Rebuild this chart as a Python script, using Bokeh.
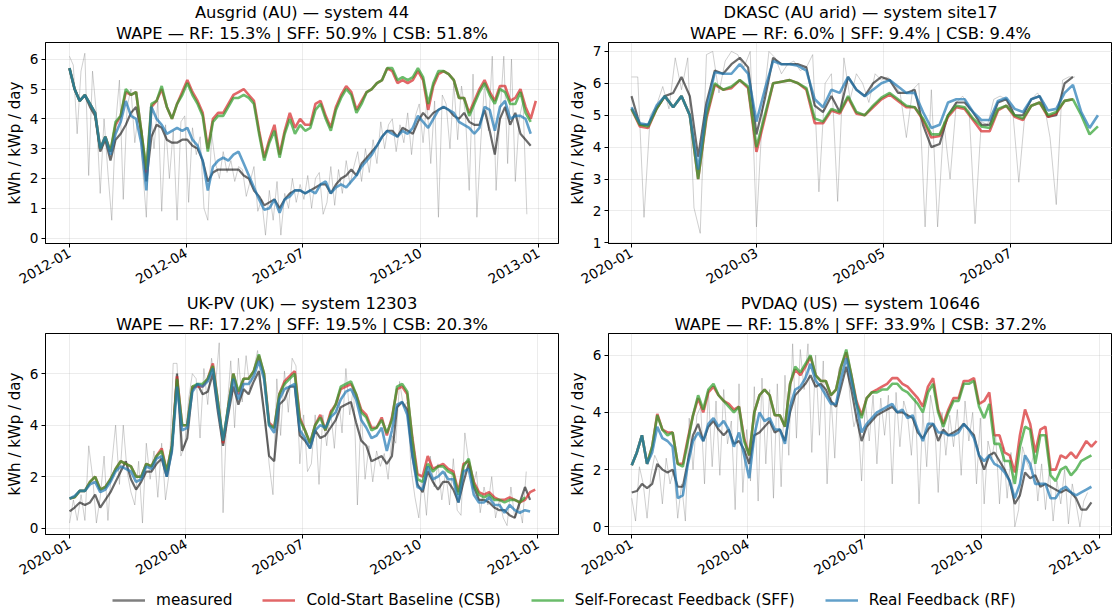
import math
from datetime import datetime, timedelta
import numpy as np
from bokeh.plotting import figure
from bokeh.layouts import gridplot, column
from bokeh.models import (Range1d, FixedTicker, DatetimeTickFormatter, Title,
                          Legend, LegendItem)
from bokeh.embed import file_html
from bokeh.resources import INLINE

# ---------------------------------------------------------------- data
# smoothed series sampled every 4 days, raw daily measurement every 3 days
TL_START = datetime(2012, 1, 1)
TL_TITLE = ("Ausgrid (AU) \u2014 system 44", "WAPE \u2014 RF: 15.3% | SFF: 50.9% | CSB: 51.8%")
TL_CSB = [5.7, 5.0, 4.6, 4.8, 4.5, 4.2, 3.0, 3.4, 2.9, 3.8,
          4.1, 4.9, 4.8, 4.9, 3.6, 2.2, 4.4, 4.6, 5.0, 4.4,
          4.0, 4.5, 4.9, 5.3, 4.9, 4.6, 4.2, 3.0, 4.0, 4.2,
          4.2, 4.5, 4.8, 4.9, 5.0, 4.8, 4.6, 3.6, 2.7, 3.3,
          3.8, 2.8, 3.6, 4.2, 3.7, 4.0, 3.8, 3.8, 4.5, 4.6,
          4.1, 3.7, 4.4, 4.8, 5.1, 4.9, 4.3, 4.6, 4.9, 5.0,
          5.2, 5.3, 5.7, 5.6, 5.2, 5.3, 5.2, 5.3, 5.6, 5.3,
          4.3, 5.1, 5.5, 5.6, 5.5, 5.3, 4.7, 4.7, 4.2, 4.6,
          5.0, 5.3, 4.9, 4.6, 5.1, 5.1, 4.6, 4.7, 5.0, 4.4,
          4.0, 4.6]
TL_SFF = [5.7, 5.0, 4.6, 4.8, 4.5, 4.2, 3.0, 3.4, 2.9, 3.9,
          4.1, 5.0, 4.8, 4.9, 3.6, 2.3, 4.5, 4.6, 5.1, 4.4,
          4.0, 4.5, 4.8, 5.2, 4.8, 4.5, 4.1, 2.9, 3.9, 4.1,
          4.1, 4.4, 4.7, 4.7, 4.8, 4.7, 4.5, 3.5, 2.6, 3.2,
          3.6, 2.7, 3.5, 4.0, 3.5, 3.8, 3.6, 3.7, 4.3, 4.5,
          4.0, 3.6, 4.3, 4.7, 5.0, 4.8, 4.2, 4.5, 4.9, 5.0,
          5.2, 5.3, 5.7, 5.7, 5.3, 5.4, 5.3, 5.4, 5.7, 5.4,
          4.5, 5.2, 5.6, 5.6, 5.5, 5.3, 4.7, 4.7, 4.1, 4.5,
          4.9, 5.2, 4.8, 4.5, 5.0, 4.9, 4.5, 4.5, 4.9, 4.2,
          3.9, None]
TL_RF = [5.7, 5.0, 4.6, 4.8, 4.5, 4.2, 3.0, 3.4, 2.8, 3.5,
         3.9, 4.6, 4.1, 4.0, 3.2, 1.6, 4.4, 4.0, 3.8, 3.5,
         3.6, 3.7, 3.6, 3.7, 3.3, 3.1, 2.6, 1.6, 2.4, 2.6,
         2.7, 2.6, 2.8, 2.9, 2.5, 2.1, 1.7, 1.3, 0.95, 1.0,
         1.3, 0.85, 1.3, 1.4, 1.6, 1.6, 1.5, 1.6, 1.5, 1.8,
         1.9, 1.5, 1.7, 1.8, 1.7, 1.9, 2.1, 2.4, 2.6, 2.8,
         3.1, 3.4, 3.6, 3.5, 3.4, 3.6, 3.5, 3.7, 4.1, 3.9,
         3.7, 4.0, 4.3, 4.4, 4.3, 4.2, 3.9, 3.8, 3.7, 3.5,
         3.7, 4.4, 4.3, 3.6, 4.4, 4.6, 4.0, 4.1, 4.1, 4.0,
         3.5, None]
TL_MEAS = [5.7, 5.0, 4.6, 4.8, 4.4, 4.1, 2.9, 3.3, 2.6, 3.3,
           3.5, 3.8, 4.2, 4.4, 3.6, 1.9, 3.4, 3.8, 3.7, 3.3,
           3.2, 3.2, 3.3, 3.3, 3.1, 3.0, 2.6, 1.9, 2.2, 2.3,
           2.3, 2.3, 2.3, 2.3, 2.1, 2.0, 1.6, 1.4, 1.1, 1.2,
           1.3, 1.0, 1.3, 1.5, 1.6, 1.6, 1.5, 1.6, 1.7, 1.8,
           1.8, 1.5, 1.8, 2.0, 2.1, 2.3, 2.1, 2.5, 2.7, 2.9,
           3.1, 3.4, 3.6, 3.6, 3.4, 3.7, 3.6, 3.5, 3.9, 4.2,
           4.0, 4.2, 4.3, 4.4, 4.3, 4.1, 4.0, 4.2, 3.9, 3.8,
           3.8, 4.3, 3.6, 2.8, 4.0, 4.4, 3.8, 4.2, 3.5, 3.3,
           3.1, None]
TL_RAW = [6.1, 5.8, 3.5, 5.6, 6.2, 2.1, 5.6, 4.2, 1.5, 4.0,
          2.2, 0.6, 3.8, 5.3, 1.3, 4.4, 5.0, 3.2, 4.3, 2.4,
          0.7, 4.4, 3.0, 4.6, 0.9, 3.8, 2.0, 3.6, 0.6, 3.9,
          4.1, 1.2, 3.7, 2.8, 3.4, 1.0, 0.6, 3.5, 2.5, 2.0,
          2.9, 2.2, 2.6, 1.9, 2.4, 2.3, 1.4, 1.9, 2.4, 0.9,
          1.3, 0.1, 1.6, 0.6, 1.9, 0.1, 1.5, 1.0, 2.0, 1.2,
          1.8, 1.3, 2.1, 1.0, 2.0, 2.2, 0.8, 1.2, 2.4, 1.1,
          2.3, 1.5, 2.6, 1.8, 2.4, 2.9, 1.9, 3.0, 2.2, 3.3,
          2.5, 3.9, 3.0, 3.8, 4.0, 2.9, 3.8, 3.2, 4.2, 2.8,
          4.1, 4.5, 3.2, 4.6, 2.5, 4.6, 0.7, 4.8, 4.5, 3.0,
          5.2, 3.3, 5.1, 4.2, 1.6, 5.5, 0.7, 3.2, 5.2, 3.6,
          6.1, 1.6, 4.1, 6.1, 2.5, 6.0, 1.9, 4.0, 4.6, 0.8]
TL_XTICKS = [datetime(2012, 1, 1), datetime(2012, 4, 1), datetime(2012, 7, 1),
             datetime(2012, 10, 1), datetime(2013, 1, 1)]
TL_YTICKS = [0, 1, 2, 3, 4, 5, 6]

TR_START = datetime(2020, 1, 1)
TR_TITLE = ("DKASC (AU arid) \u2014 system site17", "WAPE \u2014 RF: 6.0% | SFF: 9.4% | CSB: 9.4%")
TR_CSB = [5.2, 4.65, 4.6, 5.2, 5.6, 5.25, 5.6, 5.0, 3.0, 4.9,
          5.95, 5.8, 5.85, 6.1, 5.85, 3.85, 4.9, 6.0, 6.05, 6.1,
          6.0, 5.8, 4.75, 4.75, 5.15, 5.05, 5.55, 5.05, 5.0, 5.25,
          5.5, 5.65, 5.45, 5.25, 5.25, 4.85, 4.3, 4.35, 4.95, 5.25,
          5.2, 4.85, 4.5, 4.5, 5.15, 5.3, 4.95, 4.85, 5.3, 5.4,
          4.95, 5.05, 5.45, 5.5, None, None, None]
TR_SFF = [5.2, 4.7, 4.65, 5.2, 5.6, 5.25, 5.6, 5.0, 3.0, 5.0,
          6.0, 5.8, 5.9, 6.1, 5.9, 4.0, 5.0, 6.0, 6.05, 6.1,
          6.0, 5.85, 4.9, 4.8, 5.2, 5.1, 5.6, 5.1, 5.0, 5.3,
          5.55, 5.7, 5.5, 5.3, 5.25, 4.9, 4.4, 4.4, 5.0, 5.3,
          5.25, 4.9, 4.65, 4.6, 5.2, 5.3, 5.0, 4.9, 5.3, 5.4,
          5.0, 5.1, 5.45, 5.5, 5.0, 4.4, 4.65]
TR_RF = [5.25, 4.75, 4.7, 5.3, 5.6, 5.25, 5.6, 5.0, 3.3, 5.2,
         6.35, 6.3, 6.3, 6.6, 6.3, 4.8, 5.8, 6.7, 6.6, 6.6,
         6.55, 6.4, 5.5, 5.25, 5.8, 5.7, 6.2, 5.8, 5.6, 5.8,
         6.0, 6.1, 5.9, 5.7, 5.7, 5.1, 4.6, 4.7, 5.4, 5.5,
         5.5, 5.1, 4.85, 4.85, 5.45, 5.55, 5.2, 5.1, 5.5, 5.6,
         5.15, 5.2, 5.7, 5.95, 5.1, 4.6, 5.0]
TR_MEAS = [5.6, 4.7, 4.7, 5.2, 5.6, 5.7, 6.2, 5.6, 3.7, 5.4,
           6.4, 6.3, 6.6, 6.8, 6.5, 4.4, 5.5, 6.8, 6.6, 6.6,
           6.6, 6.5, 5.3, 5.1, 5.6, 5.1, 6.2, 5.8, 5.6, 6.0,
           6.2, 6.1, 5.7, 5.7, 5.8, 4.7, 4.0, 4.1, 5.0, 5.4,
           5.4, 5.1, 4.7, 4.7, 5.4, 5.5, 5.0, 5.0, 5.5, 5.6,
           4.95, 5.0, 6.0, 6.2, None, None, None]
TR_RAW = [6.2, 6.2, 1.8, 5.0, 5.3, 5.9, 5.2, 6.8, 5.8, 6.8,
          2.1, 1.3, 6.9, 7.0, 5.7, 6.7, 7.0, 6.9, 6.5, 7.0,
          1.5, 5.2, 7.0, 6.8, 6.3, 6.6, 6.7, 6.4, 6.5, 6.9,
          2.6, 6.0, 6.3, 2.3, 6.8, 5.5, 6.3, 6.0, 5.4, 6.3,
          6.1, 6.2, 6.0, 5.7, 4.3, 5.8, 6.0, 1.5, 5.8, 1.5,
          4.8, 3.0, 5.4, 5.6, 5.3, 1.6, 4.8, 4.7, 5.5, 5.6,
          5.5, 5.2, 2.9, 5.1, 5.5, 5.7, 5.4, 4.3, 2.2, 6.1,
          6.2, 6.2]
TR_XTICKS = [datetime(2020, 1, 1), datetime(2020, 3, 1), datetime(2020, 5, 1),
             datetime(2020, 7, 1)]
TR_YTICKS = [1, 2, 3, 4, 5, 6, 7]

BL_START = datetime(2020, 1, 1)
BL_TITLE = ("UK-PV (UK) \u2014 system 12303", "WAPE \u2014 RF: 17.2% | SFF: 19.5% | CSB: 20.3%")
BL_CSB = [1.15, 1.2, 1.45, 1.45, 1.8, 2.0, 1.5, 1.6, 1.9, 2.3,
          2.6, 2.5, 2.4, 2.0, 2.0, 2.5, 2.4, 2.8, 3.1, 2.2,
          3.2, 5.9, 4.0, 4.0, 5.5, 5.5, 5.5, 5.8, 6.4, 4.9,
          3.3, 4.7, 6.0, 5.2, 5.8, 5.8, 6.1, 6.7, 6.0, 4.1,
          3.9, 5.2, 5.7, 5.9, 6.1, 4.3, 3.8, 3.3, 4.0, 4.4,
          3.8, 4.5, 4.8, 5.4, 5.5, 5.6, 5.2, 4.6, 4.4, 3.9,
          3.9, 4.3, 3.6, 4.3, 5.4, 5.5, 5.2, 3.5, 2.1, 2.0,
          2.8, 2.3, 2.4, 2.5, 2.3, 2.2, 1.4, 2.5, 2.6, 1.8,
          1.4, 1.3, 1.4, 1.2, 1.1, 1.1, 1.2, 1.1, 1.0, 1.1,
          1.4, 1.5]
BL_SFF = [1.15, 1.2, 1.45, 1.45, 1.8, 2.0, 1.5, 1.6, 1.9, 2.3,
          2.6, 2.5, 2.4, 2.0, 2.0, 2.5, 2.4, 2.8, 3.0, 2.2,
          3.2, 5.8, 4.0, 4.0, 5.5, 5.6, 5.6, 5.8, 6.3, 4.9,
          3.4, 4.7, 6.0, 5.3, 5.8, 5.8, 6.1, 6.75, 6.0, 4.0,
          3.9, 5.2, 5.6, 5.8, 6.0, 4.2, 3.8, 3.3, 4.0, 4.3,
          3.8, 4.4, 4.8, 5.5, 5.6, 5.7, 5.2, 4.5, 4.3, 3.8,
          3.9, 4.2, 3.7, 4.2, 5.5, 5.6, 5.3, 3.4, 1.9, 1.8,
          2.5, 2.2, 2.4, 2.4, 2.2, 2.1, 1.3, 2.4, 2.7, 1.7,
          1.3, 1.2, 1.3, 1.1, 1.1, 1.0, 1.1, 1.1, 1.0, 1.2,
          None, None]
BL_RF = [1.15, 1.25, 1.45, 1.45, 1.7, 1.8, 1.4, 1.5, 1.8, 2.2,
         2.4, 2.3, 2.2, 1.8, 1.9, 2.4, 2.3, 2.7, 2.8, 2.0,
         3.0, 5.5, 3.8, 3.9, 5.3, 5.6, 5.5, 5.7, 6.2, 4.7,
         3.4, 4.6, 5.8, 5.0, 5.6, 5.6, 5.9, 6.5, 5.8, 4.0,
         3.7, 5.0, 5.4, 5.5, 5.6, 3.8, 3.5, 3.1, 3.8, 4.0,
         3.9, 4.3, 4.5, 5.0, 5.3, 5.4, 5.0, 4.2, 3.9, 3.5,
         3.6, 3.9, 3.0, 3.8, 4.8, 4.9, 4.4, 2.8, 1.6, 1.5,
         2.4, 1.9, 2.0, 2.2, 1.9, 1.9, 1.0, 2.2, 2.3, 1.3,
         1.0, 1.0, 1.2, 0.9, 0.9, 0.6, 0.9, 0.7, 0.6, 0.7,
         0.65, None]
BL_MEAS = [0.65, 0.8, 1.0, 0.9, 1.0, 1.3, 0.8, 1.1, 1.4, 1.8,
           2.2, 2.6, 1.9, 1.5, 1.8, 2.2, 2.2, 2.5, 2.7, 2.0,
           3.0, 6.0, 3.0, 3.5, 5.4, 5.6, 5.2, 5.3, 6.0, 4.5,
           3.2, 4.4, 5.5, 4.8, 5.4, 5.2, 5.7, 6.1, 4.5, 2.8,
           2.6, 4.8, 5.0, 5.5, 5.5, 3.6, 3.4, 3.1, 3.8, 3.5,
           3.6, 3.9, 4.2, 4.7, 4.8, 4.9, 4.1, 3.4, 3.2, 2.6,
           2.7, 2.8, 2.5, 2.8, 4.7, 4.9, 4.6, 2.8, 1.7, 1.4,
           2.2, 1.8, 1.5, 1.8, 1.8, 1.5, 1.0, 1.8, 2.5, 1.6,
           1.1, 1.1, 1.0, 0.8, 0.7, 0.7, 0.5, 0.4, 1.0, 1.6,
           1.1, None]
BL_RAW = [0.2, 1.1, 0.3, 1.3, 0.3, 3.2, 2.0, 0.2, 1.2, 2.8,
          0.3, 2.5, 4.0, 1.7, 4.0, 2.2, 1.4, 0.9, 2.6, 0.2,
          3.3, 1.9, 3.0, 1.2, 3.3, 1.1, 2.2, 6.4, 6.4, 2.8,
          3.2, 5.0, 6.0, 5.8, 3.5, 6.2, 4.8, 6.6, 5.5, 7.2,
          0.6, 4.5, 6.5, 3.9, 6.6, 4.9, 6.7, 5.4, 6.2, 6.9,
          5.5, 4.3, 2.5, 1.3, 5.8, 3.6, 6.1, 4.5, 6.6, 6.3,
          2.5, 4.4, 2.2, 2.5, 4.4, 1.7, 4.4, 3.2, 4.6, 3.1,
          5.2, 3.7, 6.2, 4.4, 5.5, 0.9, 4.6, 1.9, 3.2, 1.8,
          3.0, 2.4, 2.9, 1.9, 3.6, 3.3, 5.7, 4.7, 4.9, 2.3,
          1.2, 0.4, 2.0, 0.5, 2.8, 1.6, 2.5, 1.1, 2.2, 0.9,
          2.7, 0.7, 0.5, 3.7, 2.6, 1.5, 2.2, 0.6, 1.6, 0.9,
          2.0, 0.4, 1.1, 0.4, 0.1, 1.6, 0.4, 1.0, 0.2, 2.2]
BL_XTICKS = [datetime(2020, 1, 1), datetime(2020, 4, 1), datetime(2020, 7, 1),
             datetime(2020, 10, 1), datetime(2021, 1, 1)]
BL_YTICKS = [0, 2, 4, 6]

BR_START = datetime(2020, 1, 1)
BR_TITLE = ("PVDAQ (US) \u2014 system 10646", "WAPE \u2014 RF: 15.8% | SFF: 33.9% | CSB: 37.2%")
BR_CSB = [2.15, 2.6, 3.2, 2.2, 2.8, 3.95, 3.4, 3.3, 3.3, 2.2,
          2.2, 3.1, 3.9, 4.5, 4.0, 4.7, 4.9, 4.6, 4.4, 4.3,
          4.1, 4.2, 3.1, 2.5, 4.0, 4.6, 4.8, 4.6, 3.9, 3.9,
          3.5, 5.0, 5.5, 5.3, 5.6, 5.95, 5.3, 5.1, 5.1, 4.6,
          4.8, 5.6, 6.1, 5.3, 4.4, 3.9, 4.5, 4.7, 4.8, 4.9,
          5.0, 5.2, 5.2, 5.0, 4.9, 4.7, 4.5, 4.2, 4.9, 5.2,
          4.1, 3.6, 4.1, 4.5, 4.5, 5.1, 5.1, 5.2, 4.3, 4.4,
          4.7, 3.2, 3.2, 2.6, 2.5, 1.9, 3.2, 4.1, 3.6, 2.6,
          3.4, 3.5, 2.0, 2.0, 2.5, 2.4, 2.6, 2.4, 2.7, 3.0,
          2.8, 3.0]
BR_SFF = [2.15, 2.6, 3.2, 2.2, 2.8, 3.9, 3.4, 3.2, 3.3, 2.2,
          2.1, 3.0, 3.9, 4.6, 4.1, 4.8, 5.0, 4.6, 4.4, 4.2,
          4.0, 4.2, 3.0, 2.5, 4.0, 4.6, 4.8, 4.6, 3.9, 3.9,
          3.5, 5.0, 5.6, 5.4, 5.7, 6.0, 5.3, 5.1, 5.1, 4.6,
          4.8, 5.6, 6.2, 5.3, 4.3, 3.8, 4.5, 4.7, 4.7, 4.8,
          4.8, 5.0, 5.0, 4.8, 4.7, 4.5, 4.3, 4.0, 4.7, 5.0,
          4.0, 3.5, 4.0, 4.4, 4.4, 5.0, 5.0, 5.1, 4.2, 3.8,
          4.3, 2.9, 2.9, 2.3, 2.3, 1.5, 2.8, 3.5, 3.4, 2.2,
          3.2, 3.2, 1.8, 1.6, 2.0, 2.1, 1.8, 2.0, 2.3, 2.4,
          2.5, None]
BR_RF = [2.15, 2.6, 3.2, 2.2, 2.6, 3.5, 3.1, 3.0, 2.8, 1.0,
         1.1, 2.2, 3.0, 3.3, 3.0, 3.6, 3.8, 3.5, 3.7, 3.4,
         2.8, 3.3, 2.5, 1.7, 3.2, 4.0, 3.7, 3.8, 3.4, 3.4,
         2.9, 4.2, 4.8, 4.9, 5.2, 5.7, 5.1, 4.9, 4.6, 4.3,
         4.3, 5.2, 5.9, 5.1, 4.3, 3.3, 3.6, 3.8, 4.0, 4.1,
         4.2, 4.3, 4.0, 4.1, 3.8, 3.9, 3.4, 3.0, 3.6, 3.6,
         3.3, 3.3, 3.2, 3.2, 3.3, 3.6, 3.4, 3.1, 2.5, 2.3,
         2.5, 2.2, 2.1, 1.9, 1.6, 1.0, 1.5, 2.5, 2.2, 1.5,
         1.5, 1.5, 1.0, 1.0, 1.3, 1.4, 1.2, 1.1, 1.2, 1.3,
         1.4, None]
BR_MEAS = [1.2, 1.25, 1.5, 1.35, 1.5, 2.2, 2.0, 1.9, 2.0, 1.4,
           1.4, 2.3, 3.2, 3.6, 3.0, 3.5, 3.7, 3.4, 3.2, 3.4,
           2.9, 3.0, 2.7, 2.2, 3.2, 3.3, 3.5, 3.7, 3.3, 3.4,
           3.0, 4.0, 4.6, 4.8, 5.0, 5.3, 4.9, 5.0, 4.8, 4.4,
           4.2, 4.9, 5.6, 4.8, 3.8, 3.0, 3.5, 3.7, 3.9, 4.0,
           4.1, 4.2, 4.0, 4.0, 3.9, 3.8, 3.3, 3.1, 3.4, 3.6,
           3.0, 3.4, 3.2, 3.3, 3.4, 3.6, 3.4, 3.2, 2.5, 2.0,
           2.5, 2.6, 2.3, 2.0, 1.6, 0.8, 1.1, 1.9, 1.7, 1.8,
           1.4, 1.5, 1.4, 1.3, 1.2, 1.3, 1.2, 1.0, 0.6, 0.6,
           0.85, None]
BR_RAW = [1.0, 0.2, 2.1, 1.5, 0.3, 1.8, 2.5, 2.2, 0.8, 2.4,
          1.5, 2.0, 0.3, 1.5, 0.2, 3.8, 2.0, 3.9, 4.2, 1.5,
          4.8, 2.1, 4.4, 1.8, 4.8, 2.9, 3.7, 0.6, 5.0, 1.2,
          3.4, 1.6, 4.9, 0.9, 5.2, 2.2, 4.8, 1.0, 5.0, 1.4,
          5.3, 2.5, 6.4, 3.1, 6.2, 4.8, 6.4, 2.6, 6.0, 3.2,
          5.8, 1.5, 4.6, 2.4, 5.5, 5.8, 6.1, 4.5, 3.5, 4.0,
          1.6, 4.4, 3.0, 4.6, 2.2, 4.5, 3.2, 4.6, 1.5, 4.7,
          2.8, 4.4, 3.9, 2.5, 4.5, 0.8, 4.0, 2.1, 4.6, 3.8,
          1.2, 4.0, 2.5, 3.9, 2.8, 4.1, 1.8, 4.4, 3.0, 4.0,
          1.5, 3.8, 0.8, 3.0, 2.4, 3.2, 0.8, 2.8, 1.0, 2.6,
          0.0, 0.6, 2.8, 2.3, 2.0, 2.6, 0.9, 2.2, 0.6, 2.0,
          0.2, 1.6, 0.8, 2.0, 0.1, 1.5, 0.8, 0.0, 0.9, 1.2]
BR_XTICKS = BL_XTICKS
BR_YTICKS = [0, 2, 4, 6]

SMOOTH_STEP = 4
RAW_STEP = 3
Y_LABEL = "kWh / kWp / day"
LEGEND_LABELS = ["measured", "Cold-Start Baseline (CSB)",
                 "Self-Forecast Feedback (SFF)", "Real Feedback (RF)"]

# ---------------------------------------------------------------- style
FONT = "DejaVu Sans"
C_RAW = "#808080"
C_MEAS = "#000000"
C_CSB = "#d62728"
C_SFF = "#2ca02c"
C_RF = "#1f77b4"
EPOCH = datetime(1970, 1, 1)


def ms(d):
    return (d - EPOCH).total_seconds() * 1000.0


def dates(start, step, n):
    return [start + timedelta(days=step * i) for i in range(n)]


def arr(v):
    return np.array(v, dtype=float)


def style_title(t):
    t.text_font = FONT
    t.text_font_size = "16.3px"
    t.text_font_style = "normal"
    t.align = "center"
    t.text_color = "black"
    t.standoff = 0


def panel(start, titles, raw, meas, csb, sff, rf, xticks, yticks,
          xr, yr, fw, left, right):
    p = figure(frame_width=fw, frame_height=201, x_axis_type="datetime",
               x_range=Range1d(ms(start + timedelta(days=xr[0])),
                               ms(start + timedelta(days=xr[1]))),
               y_range=Range1d(*yr), output_backend="svg",
               toolbar_location=None, min_border_left=left,
               min_border_right=right, min_border_top=41,
               min_border_bottom=46)
    # the default title sits outermost; the added one sits next to the frame
    p.title.text = titles[0]
    style_title(p.title)
    t2 = Title(text=titles[1])
    style_title(t2)
    p.add_layout(t2, "above")

    p.outline_line_color = "black"
    p.outline_line_width = 1
    p.outline_line_alpha = 1
    p.background_fill_color = "white"
    p.border_fill_color = "white"

    p.xaxis.ticker = FixedTicker(ticks=[ms(d) for d in xticks])
    p.xaxis.formatter = DatetimeTickFormatter(days="%Y-%m", months="%Y-%m",
                                              years="%Y-%m")
    p.xaxis.major_label_orientation = math.pi / 6
    p.yaxis.ticker = FixedTicker(ticks=yticks)
    for ax in (p.xaxis, p.yaxis):
        ax.axis_line_color = "black"
        ax.major_tick_line_color = "black"
        ax.major_tick_out = 4
        ax.major_tick_in = 0
        ax.minor_tick_line_color = None
        ax.major_label_text_font = FONT
        ax.major_label_text_font_size = "13.6px"
        ax.major_label_text_color = "black"
    p.xaxis.major_label_standoff = 4
    p.yaxis.major_label_standoff = 3
    p.yaxis.axis_label = Y_LABEL
    p.yaxis.axis_label_text_font = FONT
    p.yaxis.axis_label_text_font_size = "15px"
    p.yaxis.axis_label_text_font_style = "normal"
    p.yaxis.axis_label_text_color = "black"
    p.yaxis.axis_label_standoff = 3

    p.grid.grid_line_color = "#b0b0b0"
    p.grid.grid_line_alpha = 0.3
    p.grid.grid_line_width = 0.8

    p.line(dates(start, RAW_STEP, len(raw)), arr(raw), line_color=C_RAW,
           line_alpha=0.42, line_width=0.9)
    p.line(dates(start, SMOOTH_STEP, len(meas)), arr(meas), line_color=C_MEAS,
           line_alpha=0.58, line_width=2.2)
    p.line(dates(start, SMOOTH_STEP, len(csb)), arr(csb), line_color=C_CSB,
           line_alpha=0.7, line_width=2.6)
    p.line(dates(start, SMOOTH_STEP, len(sff)), arr(sff), line_color=C_SFF,
           line_alpha=0.7, line_width=2.6)
    p.line(dates(start, SMOOTH_STEP, len(rf)), arr(rf), line_color=C_RF,
           line_alpha=0.7, line_width=2.6)
    return p


tl = panel(TL_START, TL_TITLE, TL_RAW, TL_MEAS, TL_CSB, TL_SFF, TL_RF,
           TL_XTICKS, TL_YTICKS, (-18.7, 381.7), (-0.18, 6.56), 513, 45, 2)
tr = panel(TR_START, TR_TITLE, TR_RAW, TR_MEAS, TR_CSB, TR_SFF, TR_RF,
           TR_XTICKS, TR_YTICKS, (-11.05, 231.0), (0.98, 7.28), 504, 48, 0)
bl = panel(BL_START, BL_TITLE, BL_RAW, BL_MEAS, BL_CSB, BL_SFF, BL_RF,
           BL_XTICKS, BL_YTICKS, (-18.8, 382.2), (-0.245, 7.56), 513, 45, 2)
br = panel(BR_START, BR_TITLE, BR_RAW, BR_MEAS, BR_CSB, BR_SFF, BR_RF,
           BR_XTICKS, BR_YTICKS, (-18.2, 376.5), (-0.27, 6.76), 504, 48, 0)

# ---------------------------------------------------------------- legend
lf = figure(width=1112, height=32, x_range=Range1d(0, 1), y_range=Range1d(0, 1),
            x_axis_type=None, y_axis_type=None, toolbar_location=None,
            output_backend="svg", min_border=0)
lf.outline_line_color = None
rs = []
for col, alpha in [(C_MEAS, 0.5), (C_CSB, 0.7), (C_SFF, 0.7), (C_RF, 0.7)]:
    rs.append(lf.line([-5, -4], [-5, -5], line_color=col, line_alpha=alpha,
                      line_width=2.6))
legend = Legend(items=[LegendItem(label=l, renderers=[r])
                       for l, r in zip(LEGEND_LABELS, rs)],
                orientation="horizontal", location=(112, 4),
                glyph_width=33, glyph_height=20, label_standoff=11,
                spacing=30, padding=0, margin=0, border_line_color=None,
                background_fill_alpha=0, label_text_font=FONT,
                label_text_font_size="15.3px", label_text_color="black")
lf.add_layout(legend, "center")

grid = gridplot([[tl, tr], [bl, br]], toolbar_location=None)
layout = column(grid, lf)
open("out.html", "w").write(file_html(layout, INLINE))
